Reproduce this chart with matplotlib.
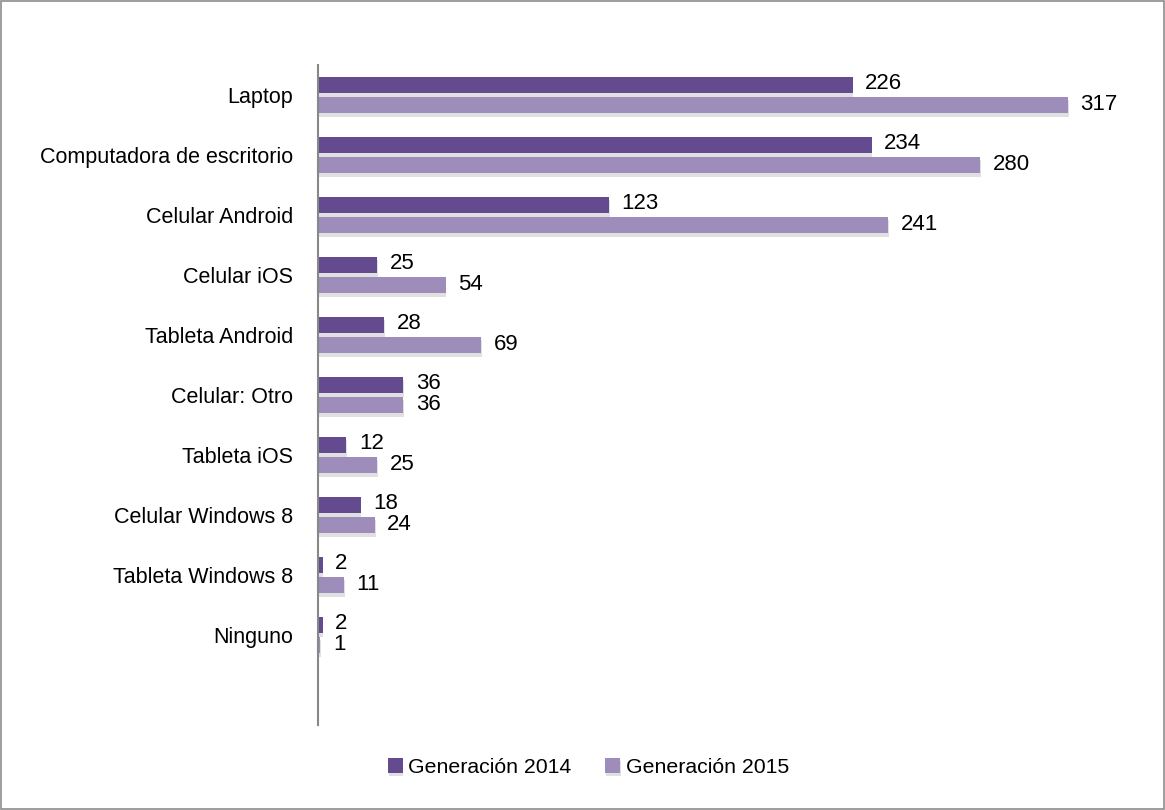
import numpy as np
import matplotlib.pyplot as plt
import matplotlib.patheffects as pe
from matplotlib.patches import Rectangle

plt.rcParams['font.family'] = ['Liberation Sans', 'DejaVu Sans']

categories = ['Laptop', 'Computadora de escritorio', 'Celular Android', 'Celular iOS',
              'Tableta Android', 'Celular: Otro', 'Tableta iOS', 'Celular Windows 8',
              'Tableta Windows 8', 'Ninguno']
gen2014 = [226, 234, 123, 25, 28, 36, 12, 18, 2, 2]
gen2015 = [317, 280, 241, 54, 69, 36, 25, 24, 11, 1]

dark = '#644a8e'
light = '#9e8cba'

fig = plt.figure(figsize=(11.65, 8.10), dpi=100)
ax = fig.add_axes([0.273, 0.1049, 0.7056, 0.8149])

y = np.arange(len(categories))
h = 0.275
off = 0.165
shadow = [pe.SimplePatchShadow(offset=(0.5, -2.5), shadow_rgbFace='#999999', alpha=0.3), pe.Normal()]

b1 = ax.barh(y - off, gen2014, height=h, color=dark, label='Generación 2014')
b2 = ax.barh(y + off, gen2015, height=h, color=light, label='Generación 2015')
for b in list(b1) + list(b2):
    b.set_path_effects(shadow)

for yy, v in zip(y - off, gen2014):
    ax.annotate(str(v), (v, yy), xytext=(9, 1), textcoords='offset points',
                va='center', ha='left', fontsize=16)
for yy, v in zip(y + off, gen2015):
    ax.annotate(str(v), (v, yy), xytext=(9, 0), textcoords='offset points',
                va='center', ha='left', fontsize=16)

ax.set_xlim(0, 347.5)
ax.set_ylim(10.5, -0.5)
ax.set_yticks(y)
ax.set_yticklabels(categories, fontsize=15.5)
ax.tick_params(axis='y', length=0, pad=18)
ax.set_xticks([])
for s in ['top', 'right', 'bottom']:
    ax.spines[s].set_visible(False)
ax.spines['left'].set_color('#888888')
ax.spines['left'].set_linewidth(1.5)

fig.legend(handles=[b1, b2], loc='center', bbox_to_anchor=(0.505, 0.053), ncol=2,
           frameon=False, fontsize=15.3, handlelength=0.7, handleheight=0.7,
           handletextpad=0.25, columnspacing=1.6)

fig.patches.append(Rectangle((0.001, 0.001), 0.998, 0.998, transform=fig.transFigure,
                             fill=False, edgecolor='#8c8c8c', linewidth=1.2))

fig.savefig('out.png', dpi=100)
